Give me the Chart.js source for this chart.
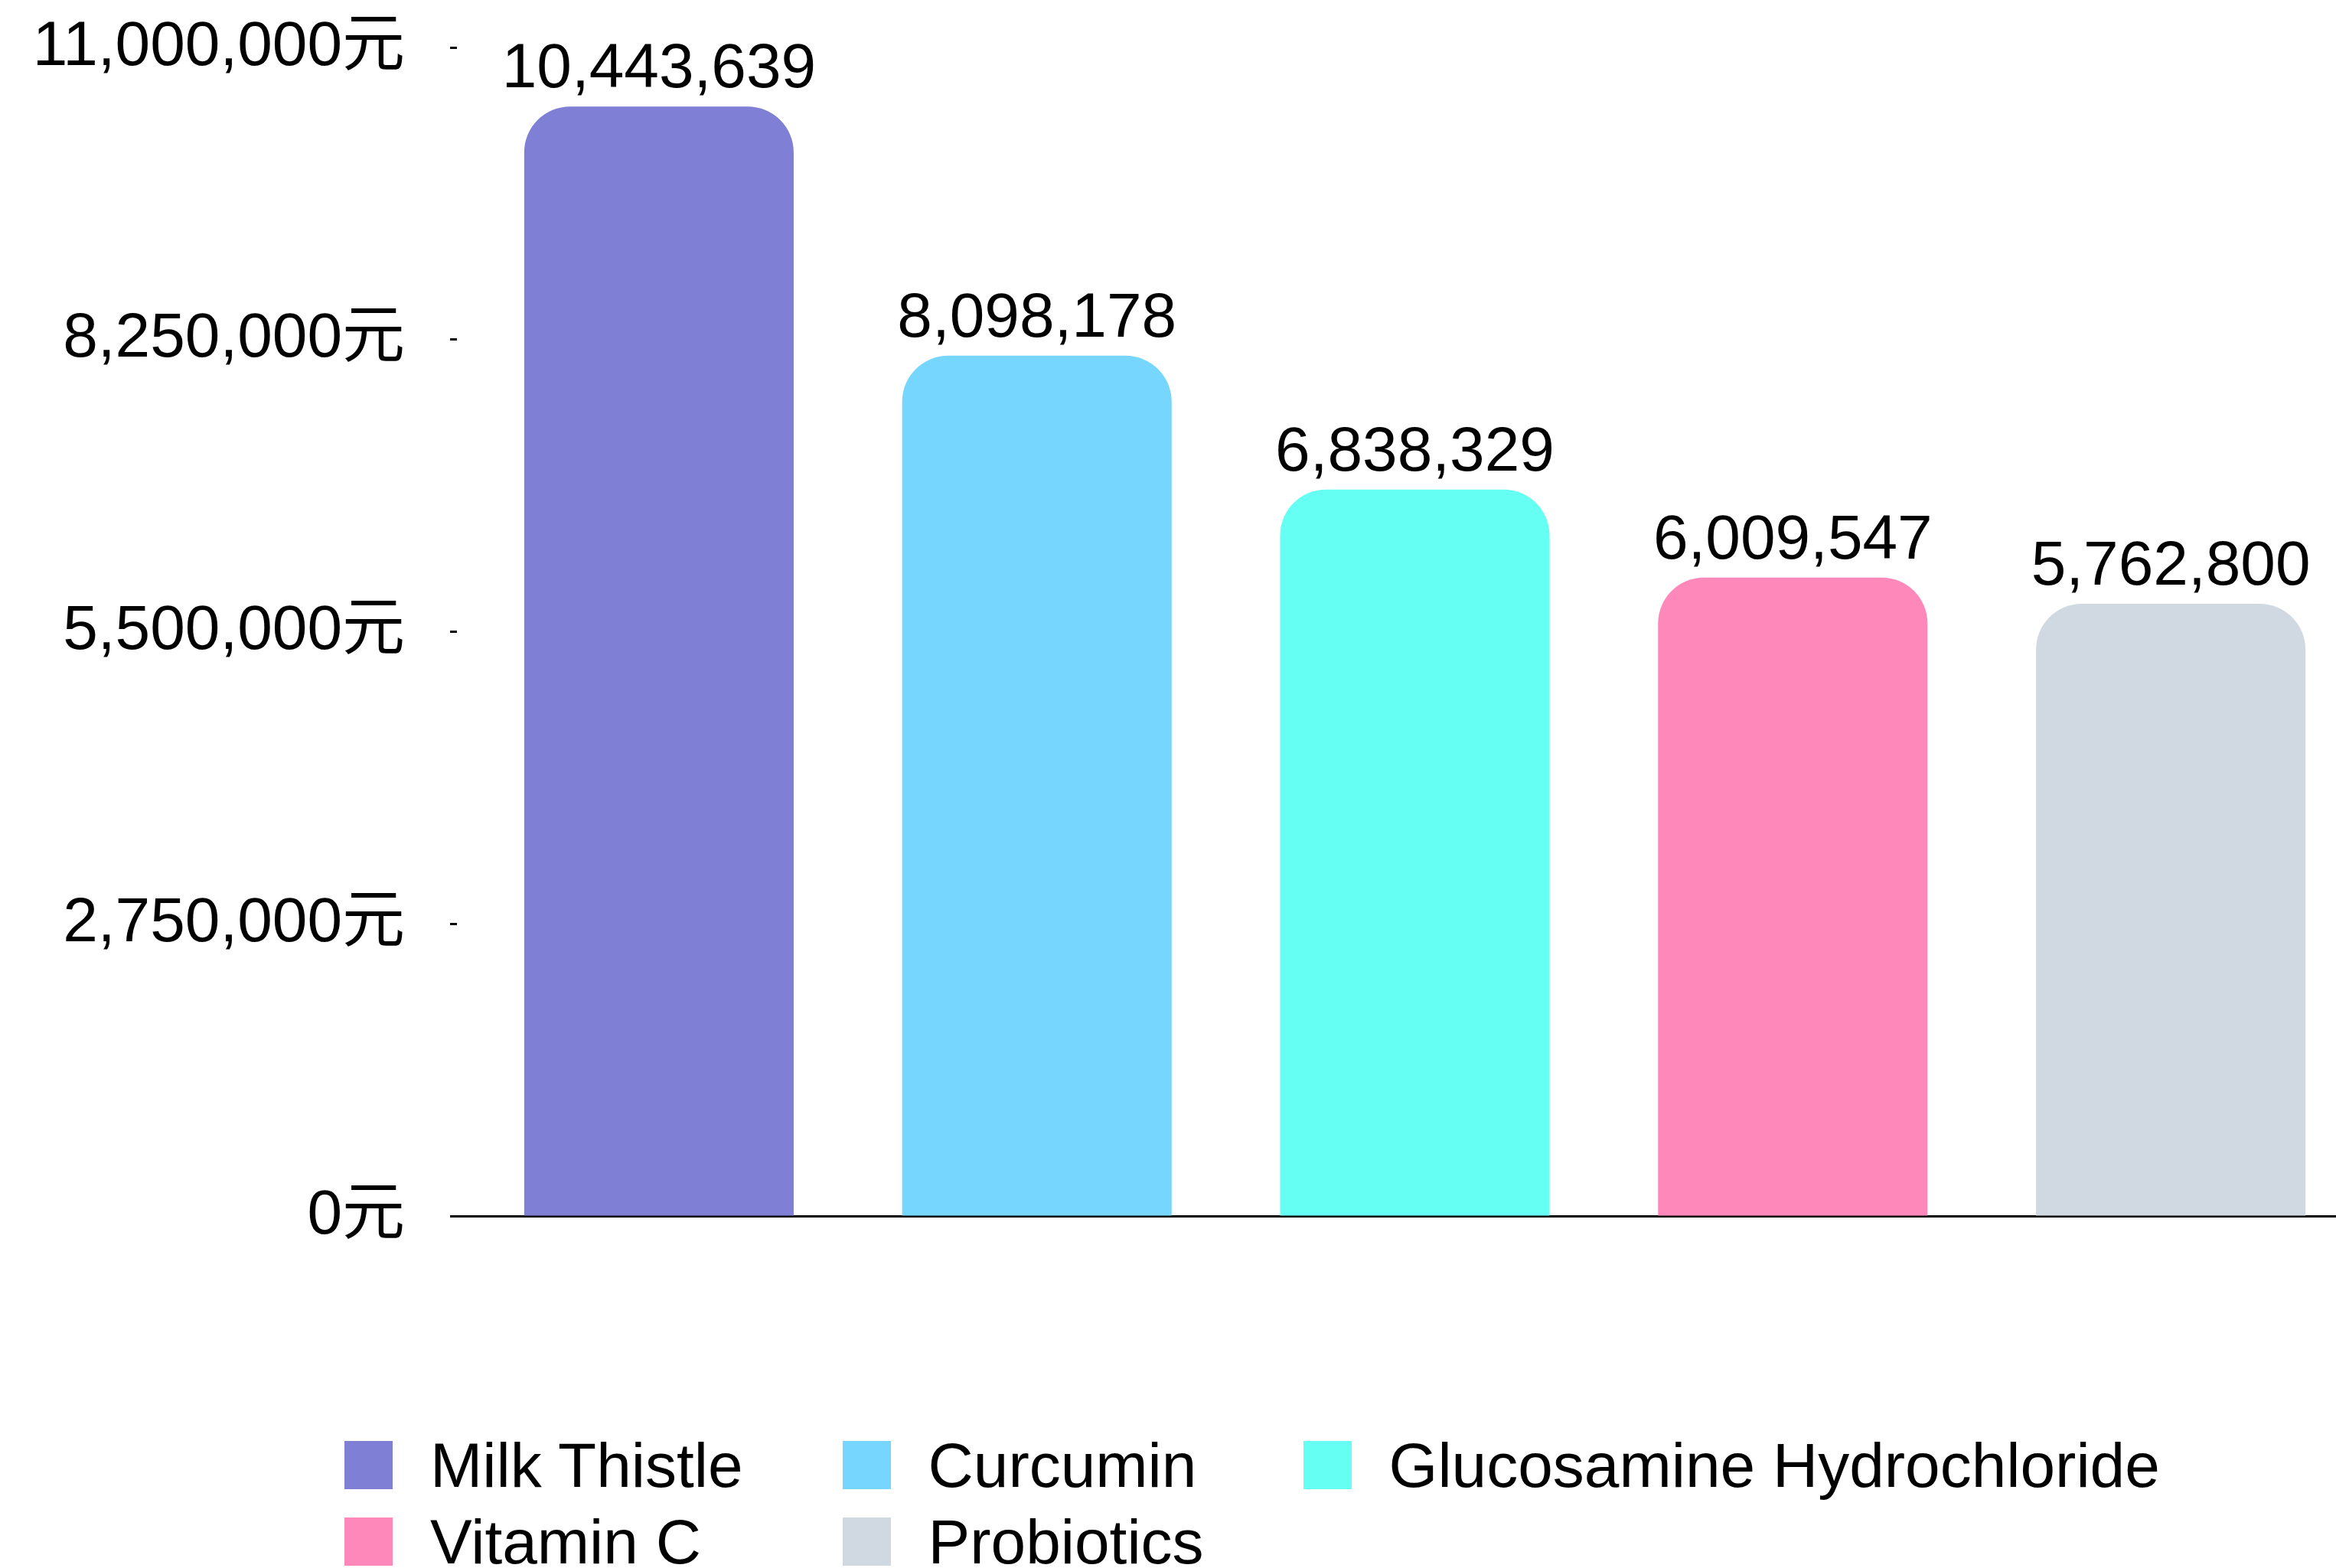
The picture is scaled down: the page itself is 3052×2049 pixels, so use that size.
<!DOCTYPE html>
<html>
<head>
<meta charset="utf-8">
<script src="https://cdn.jsdelivr.net/npm/chart.js@4.4.1/dist/chart.umd.min.js"></script>
<style>
  html, body { margin: 0; padding: 0; background: #fff; overflow: hidden; width: 3052px; height: 2049px; }
  #wrap { position: absolute; left: 0; top: 0; width: 3083px; height: 2049px; }
  #legend {
    position: absolute; left: 450px; top: 1883px;
    display: grid; grid-template-columns: auto auto auto;
    column-gap: 130px; row-gap: 37px;
    font: 82px "Liberation Sans", "Noto Sans CJK SC", sans-serif; color: #000;
  }
  .item { display: flex; align-items: center; height: 63px; white-space: nowrap; }
  .box { width: 63px; height: 63px; margin-right: 49px; flex: none; }
</style>
</head>
<body>
<div id="wrap"><canvas id="c"></canvas></div>
<div id="legend"></div>
<script>
// Supplement sales revenue (元)
const categories = ['Milk Thistle', 'Curcumin', 'Glucosamine Hydrochloride', 'Vitamin C', 'Probiotics'];
const revenue = [10443639, 8098178, 6838329, 6009547, 5762800];
const barColors = ['#7f7fd5', '#77d6fe', '#66fff3', '#ff88bb', '#d0d8e2'];
const yTicks = [0, 2750000, 5500000, 8250000, 11000000];

const FONT = '"Liberation Sans", "Noto Sans CJK SC", sans-serif';
const FONT_SIZE = 82;
const fmt = v => v.toLocaleString('en-US');

// Value printed above each bar
const valueLabels = {
  id: 'valueLabels',
  afterDatasetsDraw(chart) {
    const { ctx } = chart;
    const ds = chart.data.datasets[0];
    const meta = chart.getDatasetMeta(0);
    ctx.save();
    ctx.font = FONT_SIZE + 'px ' + FONT;
    ctx.fillStyle = '#000';
    ctx.textAlign = 'center';
    ctx.textBaseline = 'alphabetic';
    meta.data.forEach((bar, i) => {
      ctx.fillText(fmt(ds.data[i]), bar.x, bar.y - 25);
    });
    ctx.restore();
  }
};

const chart = new Chart(document.getElementById('c'), {
  type: 'bar',
  data: {
    labels: categories,
    datasets: [{
      label: 'Revenue',
      data: revenue,
      backgroundColor: barColors,
      borderRadius: 60,
      borderSkipped: 'bottom',
      barPercentage: 0.713,
      categoryPercentage: 1
    }]
  },
  options: {
    responsive: true,
    maintainAspectRatio: false,
    devicePixelRatio: 1,
    animation: false,
    layout: { padding: { top: 62, bottom: 460, left: 0, right: 0 } },
    plugins: { legend: { display: false }, tooltip: { enabled: false } },
    scales: {
      x: {
        offset: true,
        ticks: { display: false },
        grid: { display: false, drawTicks: false },
        border: { display: true, color: '#000', width: 3 }
      },
      y: {
        min: 0,
        max: 11000000,
        afterBuildTicks: s => { s.ticks = yTicks.map(v => ({ value: v })); },
        afterFit: s => { s.width = 614; },
        ticks: {
          padding: 0,
          color: '#000',
          font: { family: FONT, size: FONT_SIZE },
          callback: v => fmt(v) + '元'
        },
        grid: {
          display: true,
          drawOnChartArea: false,
          drawTicks: true,
          // the tick band spans the label gap plus the short tick mark
          tickLength: 85,
          tickWidth: 3,
          tickColor: '#000',
          tickBorderDash: ctx => (ctx.tick && ctx.tick.value === 0) ? [0, 59, 1000] : [0, 59, 9, 1000]
        },
        border: { display: false }
      }
    }
  },
  plugins: [valueLabels]
});

// Legend laid out as a grid from the chart's own data
const legendEl = document.getElementById('legend');
chart.data.labels.forEach((name, i) => {
  const item = document.createElement('div');
  item.className = 'item';
  const box = document.createElement('span');
  box.className = 'box';
  box.style.background = chart.data.datasets[0].backgroundColor[i];
  const txt = document.createElement('span');
  txt.textContent = name;
  item.appendChild(box);
  item.appendChild(txt);
  legendEl.appendChild(item);
});
</script>
</body>
</html>
